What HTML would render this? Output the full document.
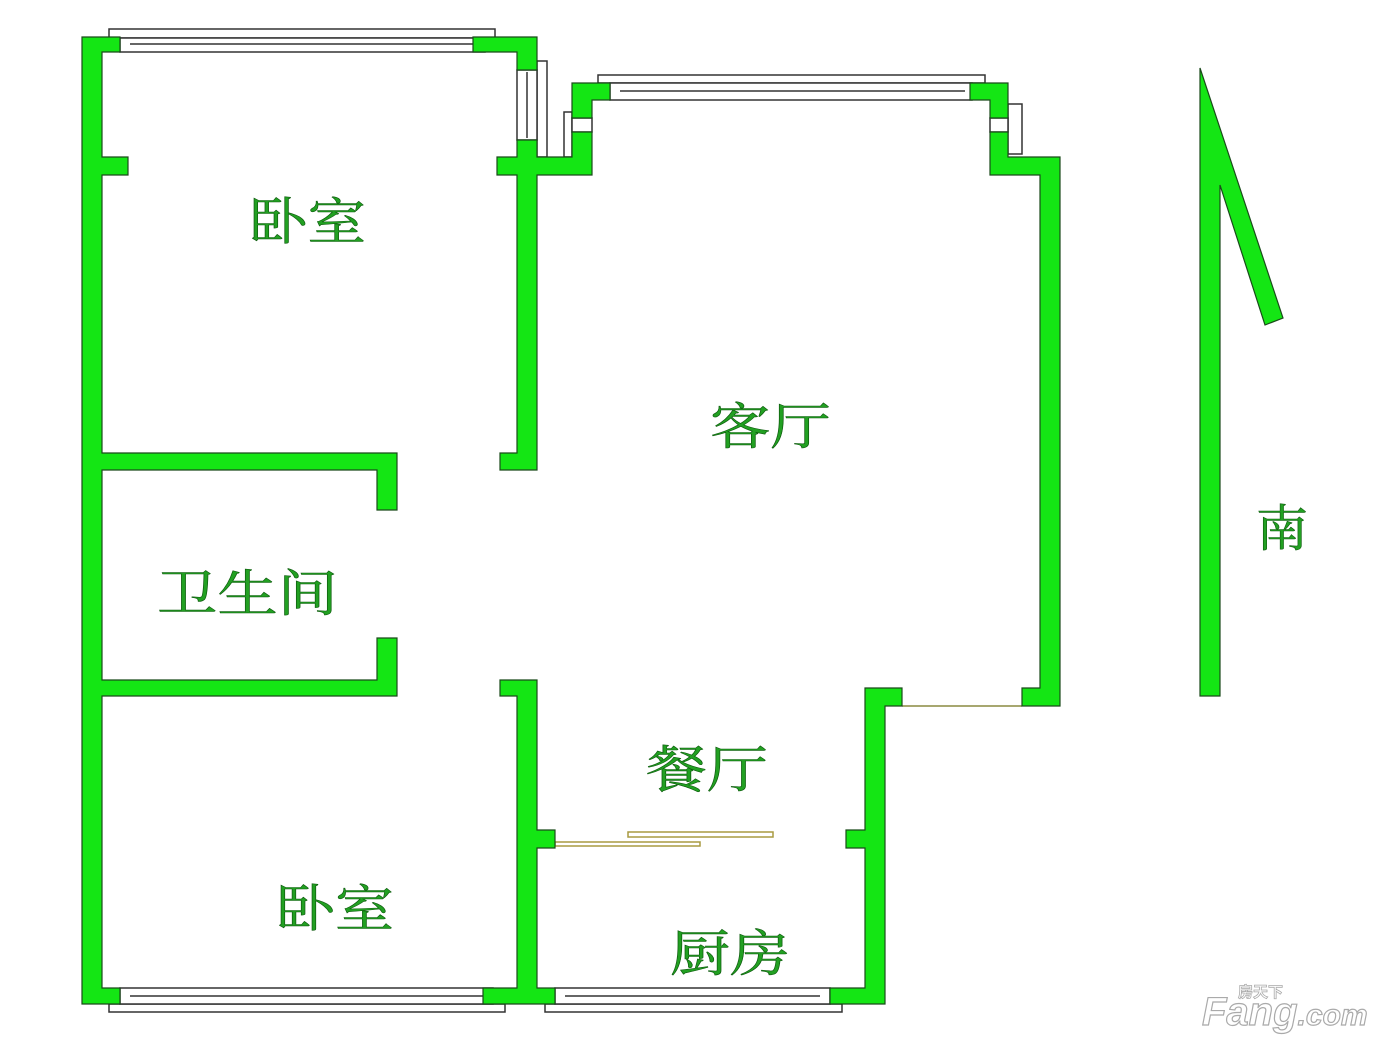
<!DOCTYPE html>
<html><head><meta charset="utf-8"><style>
html,body{margin:0;padding:0;background:#fff;width:1400px;height:1050px;overflow:hidden}
svg{display:block}
text{font-family:"Liberation Serif","Noto Serif CJK SC",serif;fill:#22a022;stroke:#0d5a0d;stroke-width:0.6}
</style></head><body>
<svg width="1400" height="1050" viewBox="0 0 1400 1050" xmlns="http://www.w3.org/2000/svg">
<g fill="none" stroke="#333" stroke-width="1.5">
<rect x="109" y="29" width="386" height="9" fill="#fff"/>
<rect x="120" y="38" width="365" height="14" fill="#fff"/>
<line x1="130" y1="44" x2="475" y2="44"/>
<rect x="537" y="61" width="10" height="96" fill="#fff"/>
<rect x="517" y="70" width="20" height="70" fill="#fff"/>
<line x1="527" y1="72" x2="527" y2="138"/>
<rect x="564" y="112" width="8" height="45" fill="#fff"/>
<rect x="572" y="118" width="20" height="14" fill="#fff"/>
<rect x="598" y="75" width="387" height="8" fill="#fff"/>
<rect x="610" y="83" width="362" height="17" fill="#fff"/>
<line x1="620" y1="91" x2="965" y2="91"/>
<rect x="1008" y="104" width="14" height="50" fill="#fff"/>
<rect x="990" y="118" width="18" height="14" fill="#fff"/>
<rect x="109" y="1004" width="396" height="8" fill="#fff"/>
<rect x="120" y="988" width="373" height="16" fill="#fff"/>
<line x1="130" y1="996" x2="485" y2="996"/>
<rect x="545" y="1004" width="297" height="8" fill="#fff"/>
<rect x="555" y="988" width="275" height="16" fill="#fff"/>
<line x1="565" y1="996" x2="820" y2="996"/>
</g>
<line x1="902" y1="706" x2="1022" y2="706" stroke="#8a8a40" stroke-width="1.5"/>
<g fill="#fff" stroke="#a89a40" stroke-width="1.5">
<rect x="628" y="832" width="145" height="5"/>
<rect x="555" y="842" width="145" height="4"/>
</g>
<g fill="#14e614" stroke="#1a4a1a" stroke-width="1.2">
<polygon points="82,37 120,37 120,52 102,52 102,157 128,157 128,175 102,175 102,453 397,453 397,510 377,510 377,470 102,470 102,680 377,680 377,638 397,638 397,696 102,696 102,988 120,988 120,1004 82,1004"/>
<polygon points="473,37 537,37 537,70 517,70 517,52 473,52"/>
<polygon points="517,140 537,140 537,157 572,157 572,132 592,132 592,175 537,175 537,470 500,470 500,453 517,453 517,175 497,175 497,157 517,157"/>
<polygon points="572,83 610,83 610,100 592,100 592,118 572,118"/>
<polygon points="970,83 1008,83 1008,118 990,118 990,100 970,100"/>
<polygon points="990,132 1008,132 1008,157 1060,157 1060,706 1022,706 1022,688 1040,688 1040,175 990,175"/>
<polygon points="500,680 537,680 537,830 555,830 555,848 537,848 537,988 555,988 555,1004 483,1004 483,988 517,988 517,696 500,696"/>
<polygon points="865,688 902,688 902,706 885,706 885,1004 830,1004 830,988 865,988 865,848 846,848 846,830 865,830"/>
<polygon points="1200,68 1283,318 1265,325 1220,185 1220,696 1200,696"/>
</g>
<g font-size="50">
<text x="249" y="239" textLength="117" lengthAdjust="spacingAndGlyphs">卧室</text>
<text x="710" y="444" textLength="121" lengthAdjust="spacingAndGlyphs">客厅</text>
<text x="157" y="611" textLength="181" lengthAdjust="spacingAndGlyphs">卫生间</text>
<text x="1256" y="546" textLength="52" lengthAdjust="spacingAndGlyphs">南</text>
<text x="646" y="787" textLength="122" lengthAdjust="spacingAndGlyphs">餐厅</text>
<text x="276" y="926" textLength="118" lengthAdjust="spacingAndGlyphs">卧室</text>
<text x="670" y="971" textLength="120" lengthAdjust="spacingAndGlyphs">厨房</text>
</g>
<g>
<text x="1202" y="1025" font-size="40" style="fill:#fff;stroke:#aaa;stroke-width:1.2;font-family:'Liberation Sans',sans-serif;font-weight:bold;font-style:italic">Fang<tspan font-size="30">.com</tspan></text>
<text x="1238" y="997" font-size="15" style="fill:#fff;stroke:#aaa;stroke-width:0.8;font-family:'Liberation Sans','Noto Sans CJK SC',sans-serif;font-weight:bold">房天下</text>
</g>
</svg>
</body></html>
